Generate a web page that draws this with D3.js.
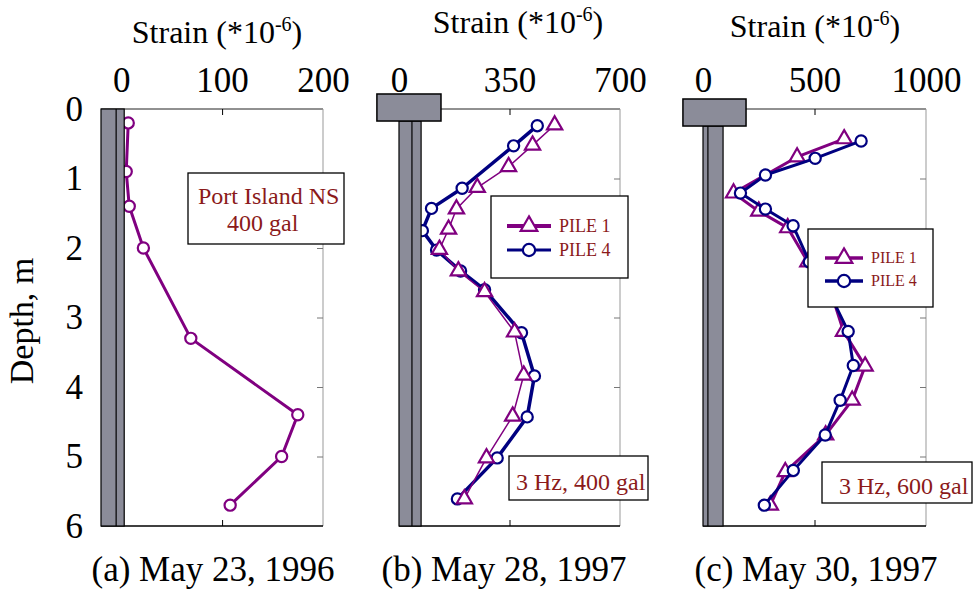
<!DOCTYPE html>
<html>
<head>
<meta charset="utf-8">
<script src="https://cdn.jsdelivr.net/npm/d3@7"></script>
<style>
  body { margin: 0; background: #fff; }
  svg { display: block; font-family: "Liberation Serif", "Times New Roman", serif; }
</style>
</head>
<body>
<script>
// depth (m) and strain (*10^-6)
var depthTicks = [0, 1, 2, 3, 4, 5, 6];

var ticksA = [0, 100, 200];
var depthA = [0.2, 0.9, 1.4, 2.0, 3.3, 4.4, 5.0, 5.7];
var strainA = [7, 5, 8, 22, 69, 175, 159, 108];

var ticksB = [0, 350, 700];
var depthB1 = [0.23, 0.52, 0.83, 1.13, 1.44, 1.73, 2.02, 2.33, 2.63, 3.21, 3.83, 4.42, 5.02, 5.61];
var strainB1 = [493, 423, 347, 248, 182, 157, 128, 188, 271, 366, 395, 360, 277, 207];
var depthB4 = [0.24, 0.53, 1.14, 1.43, 1.75, 2.03, 2.33, 2.6, 3.22, 3.84, 4.43, 5.02, 5.61];
var strainB4 = [438, 363, 200, 103, 74, 119, 195, 271, 388, 429, 406, 311, 185];

var ticksC = [0, 500, 1000];
var depthC1 = [0.43, 0.69, 1.21, 1.47, 1.71, 2.2, 2.7, 3.2, 3.7, 4.19, 4.69, 5.22, 5.7];
var strainC1 = [633, 422, 137, 250, 380, 470, 580, 630, 727, 669, 550, 369, 302];
var depthC4 = [0.46, 0.71, 0.95, 1.21, 1.44, 1.68, 2.2, 2.7, 3.2, 3.69, 4.19, 4.69, 5.2, 5.7];
var strainC4 = [709, 503, 280, 168, 280, 404, 477, 575, 651, 674, 615, 548, 405, 275];

var captions = ["(a) May 23, 1996", "(b) May 28, 1997", "(c) May 30, 1997"];
var seriesNames = ["PILE 1", "PILE 4"];

var PURPLE = "#800080", NAVY = "#000080", GREY = "#8b8c99", RED = "#8b1a1a";

var svg = d3.select("body").append("svg").attr("width", 974).attr("height", 597);

var y = d3.scaleLinear().domain([0, 6]).range([109, 526]);

function zip(ds, ss) {
	return ds.map(function(d, i) { return { depth: d, strain: ss[i] }; });
}

var panels = [
	{ range: [101, 323], domain: [-20, 200], ticks: ticksA, titleX: 217, titleY: 43, capX: 213,
	  pile: { left: -20, mid: -5, right: 3 },
	  series: [ { data: zip(depthA, strainA), color: PURPLE, width: 3, shape: "circle" } ] },
	{ range: [399, 620], domain: [0, 700], ticks: ticksB, titleX: 518, titleY: 33, capX: 504,
	  pile: { left: 0, mid: 41, right: 70, capL: -70, capR: 133, capT: -0.216, capB: 0.173 },
	  series: [ { data: zip(depthB4, strainB4), color: NAVY, width: 3.5, shape: "circle" },
	            { data: zip(depthB1, strainB1), color: PURPLE, width: 1.5, shape: "triangle" } ] },
	{ range: [703, 926], domain: [0, 1000], ticks: ticksC, titleX: 815, titleY: 37, capX: 816,
	  pile: { left: 0, mid: 22, right: 90, capL: -90, capR: 193, capT: -0.144, capB: 0.245 },
	  series: [ { data: zip(depthC1, strainC1), color: PURPLE, width: 3, shape: "triangle" },
	            { data: zip(depthC4, strainC4), color: NAVY, width: 3, shape: "circle" } ] }
];

function symbolPath(shape, scale) {
	var s = scale || 1;
	return shape === "circle"
		? d3.symbol().type(d3.symbolCircle).size(Math.PI * 5.6 * 5.6 * s)()
		: d3.symbol().type(d3.symbolTriangle).size(100 * s)();
}

panels.forEach(function(p, pi) {
	var x = d3.scaleLinear().domain(p.domain).range(p.range);
	var g = svg.append("g");
	var mid = p.ticks[1];

	// frame
	g.append("line").attr("x1", p.range[0]).attr("x2", p.range[1]).attr("y1", y(0)).attr("y2", y(0))
		.attr("stroke", "#222").attr("stroke-width", 1);
	g.append("line").attr("x1", p.range[1]).attr("x2", p.range[1]).attr("y1", y(0)).attr("y2", y(6))
		.attr("stroke", "#999").attr("stroke-width", 1);
	g.append("line").attr("x1", p.range[0]).attr("x2", p.range[1]).attr("y1", y(6)).attr("y2", y(6))
		.attr("stroke", "#000").attr("stroke-width", 1.5);

	// inner ticks
	g.append("g").attr("transform", "translate(0," + y(0) + ")")
		.call(d3.axisBottom(x).tickValues([mid]).tickSize(6).tickFormat(""))
		.call(function(a) { a.select(".domain").remove(); });
	g.append("g").attr("transform", "translate(0," + y(6) + ")")
		.call(d3.axisTop(x).tickValues([mid]).tickSize(6).tickFormat(""))
		.call(function(a) { a.select(".domain").remove(); });
	g.append("g").attr("transform", "translate(" + p.range[1] + ",0)")
		.call(d3.axisLeft(y).tickValues([1, 2, 3, 4, 5]).tickSize(6).tickFormat(""))
		.call(function(a) { a.select(".domain").remove(); a.selectAll("line").attr("stroke", "#777"); });

	// top tick labels
	g.append("g").attr("transform", "translate(0," + y(0) + ")")
		.call(d3.axisTop(x).tickValues(p.ticks).tickSize(0).tickPadding(17).tickFormat(d3.format("d")))
		.call(function(a) {
			a.select(".domain").remove();
			a.selectAll("text").attr("font-size", 35).attr("font-family", "Liberation Serif").attr("fill", "#000");
		});

	// title
	var t = g.append("text").attr("x", p.titleX).attr("y", p.titleY).attr("text-anchor", "middle")
		.attr("font-size", 32);
	t.append("tspan").text("Strain (*10");
	t.append("tspan").attr("dy", -12).attr("font-size", 20).text("-6");
	t.append("tspan").attr("dy", 12).text(")");

	// caption
	g.append("text").attr("x", p.capX).attr("y", 581).attr("text-anchor", "middle")
		.attr("font-size", 35).text(captions[pi]);

	// data
	p.series.forEach(function(s) {
		var line = d3.line().x(function(d) { return x(d.strain); }).y(function(d) { return y(d.depth); });
		g.append("path").datum(s.data).attr("d", line)
			.attr("fill", "none").attr("stroke", s.color).attr("stroke-width", s.width)
			.attr("stroke-linejoin", "round");
		g.selectAll(null).data(s.data).enter().append("path")
			.attr("transform", function(d) { return "translate(" + x(d.strain) + "," + y(d.depth) + ")"; })
			.attr("d", symbolPath(s.shape))
			.attr("fill", "#fff").attr("stroke", s.color).attr("stroke-width", 2.2);
	});

	// pile
	var pl = p.pile;
	var colTop = pl.capB !== undefined ? y(pl.capB) : y(0);
	g.append("rect").attr("x", x(pl.left)).attr("y", colTop)
		.attr("width", x(pl.right) - x(pl.left)).attr("height", y(6) - colTop)
		.attr("fill", GREY).attr("stroke", "#000").attr("stroke-width", 1.2);
	g.append("line").attr("x1", x(pl.mid)).attr("x2", x(pl.mid)).attr("y1", colTop).attr("y2", y(6))
		.attr("stroke", "#000").attr("stroke-width", 1.2);
	if (pl.capL !== undefined) {
		g.append("rect").attr("x", x(pl.capL)).attr("y", y(pl.capT))
			.attr("width", x(pl.capR) - x(pl.capL)).attr("height", y(pl.capB) - y(pl.capT))
			.attr("fill", GREY).attr("stroke", "#000").attr("stroke-width", 1.5);
	}
});

// depth axis (left of panel a)
svg.append("g").attr("transform", "translate(101,0)")
	.call(d3.axisLeft(y).tickValues(depthTicks).tickSize(0).tickPadding(18).tickFormat(d3.format("d")))
	.call(function(a) {
		a.select(".domain").remove();
		a.selectAll("text").attr("font-size", 35).attr("font-family", "Liberation Serif").attr("fill", "#000");
	});
svg.append("text").attr("transform", "translate(33,321) rotate(-90)").attr("text-anchor", "middle")
	.attr("font-size", 34).text("Depth, m");

// annotation boxes
function box(x0, y0, w, h) {
	svg.append("rect").attr("x", x0).attr("y", y0).attr("width", w).attr("height", h)
		.attr("fill", "#fff").attr("stroke", "#000").attr("stroke-width", 1.3);
}
box(188, 173, 156, 71);
svg.append("text").attr("x", 198).attr("y", 204).attr("font-size", 24).attr("fill", RED).text("Port Island NS");
svg.append("text").attr("x", 227).attr("y", 231).attr("font-size", 24).attr("fill", RED).text("400 gal");

box(509, 456, 139, 44);
svg.append("text").attr("x", 516).attr("y", 490).attr("font-size", 24).attr("fill", RED).text("3 Hz, 400 gal");

box(822, 462, 150, 41);
svg.append("text").attr("x", 839).attr("y", 494).attr("font-size", 24).attr("fill", RED).text("3 Hz, 600 gal");

// legends
function legend(x0, y0, w, h, rows, lineX, lineW, textSize, widths, scale) {
	box(x0, y0, w, h);
	var shapes = ["triangle", "circle"], colors = [PURPLE, NAVY];
	rows.forEach(function(ry, i) {
		svg.append("line").attr("x1", lineX).attr("x2", lineX + lineW).attr("y1", ry).attr("y2", ry)
			.attr("stroke", colors[i]).attr("stroke-width", widths[i]);
		svg.append("path").attr("transform", "translate(" + (lineX + lineW / 2) + "," + ry + ")")
			.attr("d", symbolPath(shapes[i], scale))
			.attr("fill", "#fff").attr("stroke", colors[i]).attr("stroke-width", 2.2);
		svg.append("text").attr("x", lineX + lineW + 8).attr("y", ry + textSize * 0.33)
			.attr("font-size", textSize).attr("fill", RED).text(seriesNames[i]);
	});
}
legend(491, 196, 137, 82, [226, 250], 507, 44, 18, [4, 3], 1.2);
legend(808, 229, 125, 78, [258, 281], 825, 38, 16, [3.5, 3.5], 1.2);
</script>
</body>
</html>
